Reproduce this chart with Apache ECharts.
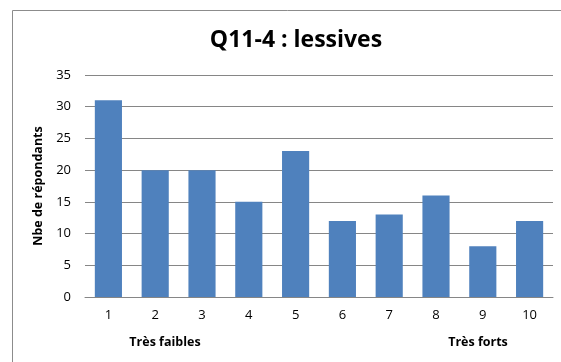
<!DOCTYPE html>
<html><head><meta charset="utf-8">
<script src="https://cdn.jsdelivr.net/npm/echarts@6/dist/echarts.min.js"></script>
<style>html,body{margin:0;padding:0;background:#fff}#c{width:561px;height:362px}</style>
</head><body><div id="c"></div>
<script>
const categories = ['1','2','3','4','5','6','7','8','9','10'];
const values = [31, 20, 20, 15, 23, 12, 13, 16, 8, 12];
const yTicks = [0, 5, 10, 15, 20, 25, 30, 35];
const titleText = 'Q11-4 : lessives';
const yAxisTitle = 'Nbe de répondants';
const lowLabel = 'Très faibles';
const highLabel = 'Très forts';

const font = 'Open Sans, Liberation Sans, sans-serif';
const chart = echarts.init(document.getElementById('c'), null, {renderer: 'canvas'});
chart.setOption({
  animation: false,
  title: {
    text: titleText, left: 291, top: 24, textAlign: 'center',
    textStyle: {fontFamily: font, fontSize: 23, fontWeight: 'bold', color: '#000'}
  },
  grid: {left: 85, right: 8, top: 75, bottom: 65},
  xAxis: {
    type: 'category', data: categories,
    axisLine: {lineStyle: {color: '#868686', width: 1}},
    axisTick: {show: false},
    axisLabel: {fontFamily: font, fontSize: 13, color: '#000', margin: 12}
  },
  yAxis: {
    type: 'value', min: yTicks[0], max: yTicks[yTicks.length - 1], interval: 5,
    name: yAxisTitle, nameLocation: 'middle', nameGap: 34, nameRotate: 90,
    nameTextStyle: {fontFamily: font, fontSize: 12.5, fontWeight: 'bold', color: '#000'},
    axisLine: {show: false},
    axisTick: {show: false},
    axisLabel: {fontFamily: font, fontSize: 13, color: '#000', margin: 14},
    splitLine: {lineStyle: {color: '#868686', width: 1}}
  },
  series: [{
    type: 'bar', data: values, barWidth: '58%',
    itemStyle: {color: '#4F81BD'}
  }],
  graphic: [
    {type: 'rect', shape: {x: 12.5, y: 10.5, width: 700, height: 500}, style: {fill: 'none', stroke: '#8c8c8c', lineWidth: 1}, silent: true},
    {type: 'text', x: 165, y: 342, style: {text: lowLabel, font: 'bold 12.5px ' + font, fill: '#000', textAlign: 'center', textVerticalAlign: 'middle'}},
    {type: 'text', x: 478, y: 342, style: {text: highLabel, font: 'bold 12.5px ' + font, fill: '#000', textAlign: 'center', textVerticalAlign: 'middle'}}
  ]
});
</script></body></html>
